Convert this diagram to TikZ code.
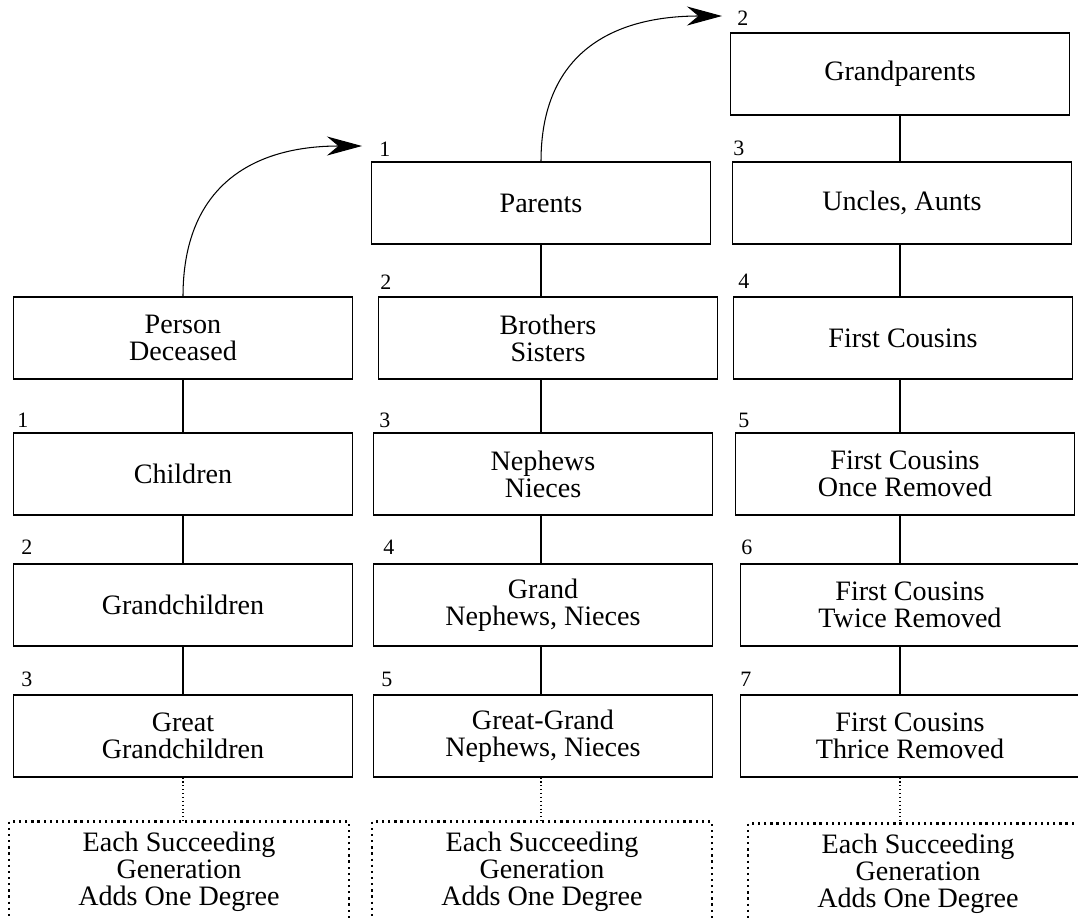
\documentclass[tikz,border=0pt]{standalone}
\usepackage{fontspec}
\setmainfont{Liberation Serif}
\usetikzlibrary{arrows.meta}

\newcommand\kinfont{\fontsize{16}{15.4}\selectfont}
\newcommand\degfont{\fontsize{12.5}{14}\selectfont}

\tikzset{
  kin/.style={draw, line width=0.7pt, minimum width=6.78cm, minimum height=1.64cm, align=center, font=\kinfont},
  more/.style={draw, line width=1.3pt, dash pattern=on 1.3pt off 2.2pt, minimum width=6.8cm, minimum height=2.02cm, align=center, font=\kinfont},
  deg/.style={anchor=base west, inner sep=0pt, font=\degfont},
  link/.style={line width=0.6pt},
  etc/.style={line width=0.6pt, dash pattern=on 0.6pt off 1.6pt},
  jump/.style={line width=0.6pt, -{Stealth[length=0.7cm, width=0.38cm]}, out=90, in=180, looseness=1.2},
}

\begin{document}
\begin{tikzpicture}[x=0.02cm, y=-0.02cm]
  \useasboundingbox (0,0) rectangle (1078,917);
  \clip (0,0) rectangle (1078,917);

  \node[kin] (pd) at (183,338) {Person\\Deceased};
  \node[kin] (ch) at (183,474) {Children};
  \node[kin] (gc) at (183,605) {Grandchildren};
  \node[kin] (ggc) at (183,736) {Great\\Grandchildren};
  \node[more] (m1) at (179,872) {Each Succeeding\\Generation\\Adds One Degree};

  \node[kin] (par) at (541,203) {Parents};
  \node[kin] (bs) at (548,338) {Brothers\\Sisters};
  \node[kin] (nn) at (543,474) {Nephews\\Nieces};
  \node[kin] (gnn) at (543,605) {Grand\\Nephews, Nieces};
  \node[kin] (ggnn) at (543,736) {Great-Grand\\Nephews, Nieces};
  \node[more] (m2) at (542,872) {Each Succeeding\\Generation\\Adds One Degree};

  \node[kin] (gp) at (900,74) {Grandparents};
  \node[kin] (ua) at (902,203) {Uncles, Aunts};
  \node[kin] (fc) at (903,338) {First Cousins};
  \node[kin] (fc1) at (905,474) {First Cousins\\Once Removed};
  \node[kin] (fc2) at (910,605) {First Cousins\\Twice Removed};
  \node[kin] (fc3) at (910,736) {First Cousins\\Thrice Removed};
  \node[more] (m3) at (918,874) {Each Succeeding\\Generation\\Adds One Degree};

  \node[deg] (d-ch) at (17,427) {1};
  \node[deg] (d-gc) at (21,554) {2};
  \node[deg] (d-ggc) at (21,686) {3};

  \node[deg] (d-par) at (379,156) {1};
  \node[deg] (d-bs) at (380,289) {2};
  \node[deg] (d-nn) at (379,427) {3};
  \node[deg] (d-gnn) at (383,554) {4};
  \node[deg] (d-ggnn) at (381,686) {5};

  \node[deg] (d-gp) at (737,25) {2};
  \node[deg] (d-ua) at (733,155) {3};
  \node[deg] (d-fc) at (738,288) {4};
  \node[deg] (d-fc1) at (738,427) {5};
  \node[deg] (d-fc2) at (741,554) {6};
  \node[deg] (d-fc3) at (740,686) {7};

  \draw[link] (pd) -- (pd |- ch.north);
  \draw[link] (ch) -- (ch |- gc.north);
  \draw[link] (gc) -- (gc |- ggc.north);
  \draw[etc] (ggc) -- (ggc |- m1.north);

  \draw[link] (par) -- (par |- bs.north);
  \draw[link] (par |- bs.south) -- (par |- nn.north);
  \draw[link] (par |- nn.south) -- (par |- gnn.north);
  \draw[link] (par |- gnn.south) -- (par |- ggnn.north);
  \draw[etc] (par |- ggnn.south) -- (par |- m2.north);

  \draw[link] (gp) -- (gp |- ua.north);
  \draw[link] (gp |- ua.south) -- (gp |- fc.north);
  \draw[link] (gp |- fc.south) -- (gp |- fc1.north);
  \draw[link] (gp |- fc1.south) -- (gp |- fc2.north);
  \draw[link] (gp |- fc2.south) -- (gp |- fc3.north);
  \draw[etc] (gp |- fc3.south) -- (gp |- m3.north);

  \coordinate (t1) at (362,146);
  \coordinate (t2) at (722,16);
  \draw[jump] (pd.north) to (t1);
  \draw[jump] (par.north) to (t2);
\end{tikzpicture}
\end{document}
